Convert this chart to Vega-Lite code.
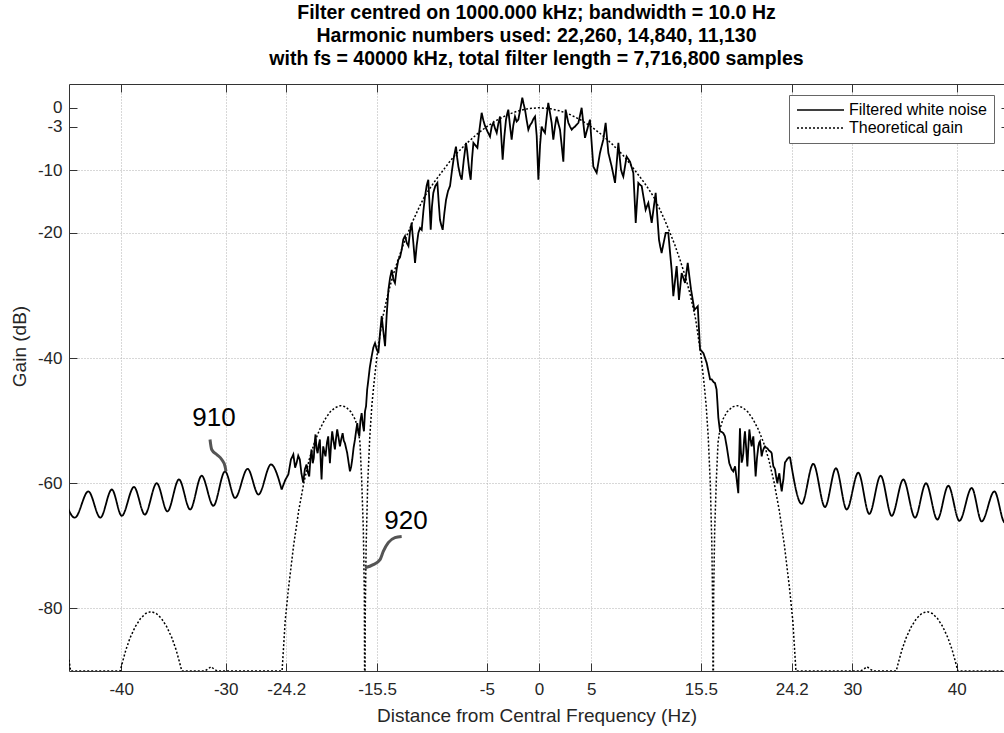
{
"$schema": "https://vega.github.io/schema/vega-lite/v6.json",
"width": 935, "height": 587,
"autosize": "none",
"padding": {"left": 69, "top": 84, "right": 0, "bottom": 62},
"config": {"font": "Liberation Sans", "view": {"stroke": null}},
"title": {"text": ["Filter centred on 1000.000 kHz; bandwidth = 10.0 Hz", "Harmonic numbers used: 22,260, 14,840, 11,130", "with fs = 40000 kHz, total filter length = 7,716,800 samples"], "fontSize": 19.5, "fontWeight": "bold", "lineHeight": 23, "offset": 14, "anchor": "middle", "color": "#000"},
"datasets": {
"theory": [
{"f":-45,"g":-88.2},{"f":-44.85,"g":-90},{"f":-40.1,"g":-90},{"f":-39.85,"g":-88.4},{"f":-39.55,"g":-86.6},{"f":-39.15,"g":-84.7},{"f":-38.65,"g":-82.9},{"f":-38.15,"g":-81.6},{"f":-37.65,"g":-80.8},{"f":-37.15,"g":-80.5},{"f":-36.65,"g":-80.8},{"f":-36.15,"g":-81.6},{"f":-35.65,"g":-82.9},{"f":-35.15,"g":-84.7},{"f":-34.75,"g":-86.6},{"f":-34.45,"g":-88.4},{"f":-34.2,"g":-90},{"f":-32.0,"g":-90},{"f":-31.7,"g":-89.7},{"f":-31.4,"g":-89.3},{"f":-31.1,"g":-89.7},{"f":-30.8,"g":-90},{"f":-24.6,"g":-90},{"f":-24.3,"g":-82},{"f":-24.0,"g":-77},{"f":-23.5,"g":-70},{"f":-23.0,"g":-64.3},{"f":-22.5,"g":-59.8},{"f":-22.0,"g":-56.2},{"f":-21.5,"g":-53.5},{"f":-21.0,"g":-51.4},{"f":-20.5,"g":-49.8},{"f":-20.0,"g":-48.6},{"f":-19.5,"g":-47.9},{"f":-19.0,"g":-47.6},{"f":-18.5,"g":-47.8},{"f":-18.0,"g":-48.6},{"f":-17.6,"g":-49.8},{"f":-17.33,"g":-51.3},{"f":-17.14,"g":-53.5},{"f":-16.98,"g":-59.4},{"f":-16.82,"g":-67.4},{"f":-16.72,"g":-78},{"f":-16.68,"g":-100},{"f":-16.63,"g":-80},{"f":-16.55,"g":-70},{"f":-16.4,"g":-60},{"f":-16.2,"g":-52.5},{"f":-16.0,"g":-47.5},{"f":-15.8,"g":-44},{"f":-15.5,"g":-39.5},{"f":-15.0,"g":-33.8},{"f":-14.5,"g":-30},{"f":-14.0,"g":-26.9},{"f":-13.5,"g":-24.3},{"f":-13.0,"g":-21.9},{"f":-12.5,"g":-19.8},{"f":-12.0,"g":-17.8},{"f":-11.5,"g":-16.0},{"f":-11.0,"g":-14.3},{"f":-10.5,"g":-13.0},{"f":-10.0,"g":-11.8},{"f":-9.5,"g":-10.7},{"f":-9.0,"g":-9.6},{"f":-8.5,"g":-8.5},{"f":-8.0,"g":-7.5},{"f":-7.0,"g":-5.8},{"f":-6.0,"g":-4.3},{"f":-5.0,"g":-3.0},{"f":-4.0,"g":-1.95},{"f":-3.0,"g":-1.1},{"f":-2.0,"g":-0.5},{"f":-1.0,"g":-0.12},{"f":0,"g":0},
{"f":1.0,"g":-0.12},{"f":2.0,"g":-0.5},{"f":3.0,"g":-1.1},{"f":4.0,"g":-1.95},{"f":5.0,"g":-3.0},{"f":6.0,"g":-4.3},{"f":7.0,"g":-5.8},{"f":8.0,"g":-7.5},{"f":8.5,"g":-8.5},{"f":9.0,"g":-9.6},{"f":9.5,"g":-10.7},{"f":10.0,"g":-11.8},{"f":10.5,"g":-13.0},{"f":11.0,"g":-14.3},{"f":11.5,"g":-16.0},{"f":12.0,"g":-17.8},{"f":12.5,"g":-19.8},{"f":13.0,"g":-21.9},{"f":13.5,"g":-24.3},{"f":14.0,"g":-26.9},{"f":14.5,"g":-30},{"f":15.0,"g":-33.8},{"f":15.5,"g":-39.5},{"f":15.8,"g":-44},{"f":16.0,"g":-47.5},{"f":16.2,"g":-52.5},{"f":16.4,"g":-60},{"f":16.55,"g":-70},{"f":16.63,"g":-80},{"f":16.68,"g":-100},{"f":16.72,"g":-78},{"f":16.82,"g":-67.4},{"f":16.98,"g":-59.4},{"f":17.14,"g":-53.5},{"f":17.33,"g":-51.3},{"f":17.6,"g":-49.8},{"f":18.0,"g":-48.6},{"f":18.5,"g":-47.8},{"f":19.0,"g":-47.6},{"f":19.5,"g":-47.9},{"f":20.0,"g":-48.6},{"f":20.5,"g":-49.8},{"f":21.0,"g":-51.4},{"f":21.5,"g":-53.5},{"f":22.0,"g":-56.2},{"f":22.5,"g":-59.8},{"f":23.0,"g":-64.3},{"f":23.5,"g":-70},{"f":24.0,"g":-77},{"f":24.3,"g":-82},{"f":24.6,"g":-90},{"f":30.8,"g":-90},{"f":31.1,"g":-89.7},{"f":31.4,"g":-89.3},{"f":31.7,"g":-89.7},{"f":32.0,"g":-90},{"f":34.2,"g":-90},{"f":34.45,"g":-88.4},{"f":34.75,"g":-86.6},{"f":35.15,"g":-84.7},{"f":35.65,"g":-82.9},{"f":36.15,"g":-81.6},{"f":36.65,"g":-80.8},{"f":37.15,"g":-80.5},{"f":37.65,"g":-80.8},{"f":38.15,"g":-81.6},{"f":38.65,"g":-82.9},{"f":39.15,"g":-84.7},{"f":39.55,"g":-86.6},{"f":39.85,"g":-88.4},{"f":40.1,"g":-90},{"f":44.85,"g":-90},{"f":45,"g":-88.2}
],
"osc": [
{"f":-45.6,"g":-61.6,"k":"L"},{"f":-44.44,"g":-65.5,"k":"L"},{"f":-43.15,"g":-61.3,"k":"L"},{"f":-42.0,"g":-65.5,"k":"L"},{"f":-40.9,"g":-61.0,"k":"L"},{"f":-39.95,"g":-65.2,"k":"L"},{"f":-38.78,"g":-60.6,"k":"L"},{"f":-37.74,"g":-65.0,"k":"L"},{"f":-36.6,"g":-60.0,"k":"L"},{"f":-35.58,"g":-64.5,"k":"L"},{"f":-34.47,"g":-59.4,"k":"L"},{"f":-33.4,"g":-64.2,"k":"L"},{"f":-32.3,"g":-58.8,"k":"L"},{"f":-31.18,"g":-63.6,"k":"L"},{"f":-30.06,"g":-58.1,"k":"L"},{"f":-29.1,"g":-62.35,"k":"L"},{"f":-27.9,"g":-57.7,"k":"L"},{"f":-26.86,"g":-61.8,"k":"L"},{"f":-25.66,"g":-57.0,"k":"L"},{"f":-24.64,"g":-61.0,"k":"L"},
{"f":24.03,"g":-55.8,"k":"R"},{"f":25.15,"g":-63.3,"k":"R"},{"f":26.26,"g":-56.9,"k":"R"},{"f":27.38,"g":-63.8,"k":"R"},{"f":28.43,"g":-57.6,"k":"R"},{"f":29.46,"g":-64.2,"k":"R"},{"f":30.57,"g":-58.3,"k":"R"},{"f":31.62,"g":-64.9,"k":"R"},{"f":32.71,"g":-58.8,"k":"R"},{"f":33.77,"g":-65.2,"k":"R"},{"f":34.88,"g":-59.4,"k":"R"},{"f":36.0,"g":-65.5,"k":"R"},{"f":37.05,"g":-60.0,"k":"R"},{"f":38.14,"g":-65.8,"k":"R"},{"f":39.19,"g":-60.4,"k":"R"},{"f":40.25,"g":-66.0,"k":"R"},{"f":41.43,"g":-60.75,"k":"R"},{"f":42.38,"g":-66.1,"k":"R"},{"f":43.6,"g":-61.3,"k":"R"},{"f":44.6,"g":-66.3,"k":"R"},{"f":45.7,"g":-61.5,"k":"R"}
],
"noise": [
{"f":-24.64,"g":-61.0},{"f":-24.3,"g":-59.5},{"f":-24.0,"g":-58.6},{"f":-23.75,"g":-56.2},{"f":-23.52,"g":-55.4},{"f":-23.35,"g":-57.5},{"f":-23.2,"g":-56.7},{"f":-23.05,"g":-55.6},{"f":-22.9,"g":-56.2},{"f":-22.75,"g":-58.4},{"f":-22.58,"g":-59.9},{"f":-22.42,"g":-57.8},{"f":-22.26,"g":-57.0},{"f":-22.12,"g":-58.3},{"f":-22.0,"g":-58.9},{"f":-21.88,"g":-56.0},{"f":-21.78,"g":-54.6},{"f":-21.66,"g":-56.8},{"f":-21.56,"g":-55.9},{"f":-21.48,"g":-53.6},{"f":-21.4,"g":-52.2},{"f":-21.3,"g":-54.4},{"f":-21.2,"g":-55.2},{"f":-21.08,"g":-53.8},{"f":-20.98,"g":-53.0},{"f":-20.9,"g":-56.5},{"f":-20.82,"g":-59.4},{"f":-20.74,"g":-56.3},{"f":-20.66,"g":-54.1},{"f":-20.55,"g":-55.0},{"f":-20.44,"g":-55.7},{"f":-20.3,"g":-53.5},{"f":-20.18,"g":-52.5},{"f":-20.1,"g":-54.8},{"f":-20.02,"g":-56.8},{"f":-19.9,"g":-53.6},{"f":-19.8,"g":-51.7},{"f":-19.67,"g":-53.3},{"f":-19.54,"g":-54.6},{"f":-19.43,"g":-52.8},{"f":-19.32,"g":-51.4},{"f":-19.2,"g":-52.6},{"f":-19.06,"g":-54.1},{"f":-18.93,"g":-52.9},{"f":-18.8,"g":-52.0},{"f":-18.69,"g":-53.2},{"f":-18.58,"g":-53.6},{"f":-18.47,"g":-54.4},{"f":-18.36,"g":-55.2},{"f":-18.23,"g":-56.7},{"f":-18.1,"g":-58.1},{"f":-17.99,"g":-57.4},{"f":-17.88,"g":-56.2},{"f":-17.75,"g":-54.3},{"f":-17.62,"g":-53.0},{"f":-17.5,"g":-51.5},{"f":-17.4,"g":-50.4},{"f":-17.3,"g":-51.9},{"f":-17.2,"g":-52.5},{"f":-17.1,"g":-50.0},{"f":-16.98,"g":-48.8},{"f":-16.87,"g":-50.6},{"f":-16.76,"g":-51.7},{"f":-16.66,"g":-48.5},{"f":-16.56,"g":-47.7},{"f":-16.45,"g":-45.0},{"f":-16.34,"g":-43.5},{"f":-16.2,"g":-41.5},{"f":-16.02,"g":-39.7},{"f":-15.86,"g":-38.3},{"f":-15.7,"g":-37.6},{"f":-15.54,"g":-38.6},{"f":-15.38,"g":-39.2},{"f":-15.22,"g":-36.0},{"f":-15.06,"g":-33.3},{"f":-14.9,"g":-35.8},{"f":-14.74,"g":-38.1},{"f":-14.58,"g":-33.0},{"f":-14.42,"g":-29.1},{"f":-14.26,"g":-27.2},{"f":-14.1,"g":-25.9},{"f":-13.95,"g":-27.4},{"f":-13.79,"g":-28.0},{"f":-13.63,"g":-25.8},{"f":-13.47,"g":-24.3},{"f":-13.31,"g":-23.9},{"f":-13.15,"g":-22.7},{"f":-12.99,"g":-21.0},{"f":-12.83,"g":-20.5},{"f":-12.66,"g":-21.6},{"f":-12.5,"g":-22.1},{"f":-12.35,"g":-19.8},{"f":-12.2,"g":-18.4},{"f":-12.03,"g":-21.6},{"f":-11.87,"g":-24.8},{"f":-11.71,"g":-22.0},{"f":-11.55,"g":-20.0},{"f":-11.39,"g":-19.2},{"f":-11.23,"g":-19.5},{"f":-11.07,"g":-16.5},{"f":-10.91,"g":-14.1},{"f":-10.75,"g":-12.4},{"f":-10.6,"g":-11.5},{"f":-10.48,"g":-15.5},{"f":-10.37,"g":-19.5},{"f":-10.25,"g":-15.8},{"f":-10.12,"g":-13.6},{"f":-9.93,"g":-12.5},{"f":-9.73,"g":-12.0},{"f":-9.6,"g":-15.2},{"f":-9.48,"g":-17.9},{"f":-9.35,"g":-18.8},{"f":-9.22,"g":-19.5},{"f":-9.06,"g":-16.8},{"f":-8.9,"g":-14.7},{"f":-8.71,"g":-13.3},{"f":-8.52,"g":-12.5},{"f":-8.33,"g":-10.0},{"f":-8.14,"g":-7.8},{"f":-7.95,"g":-6.2},{"f":-7.84,"g":-7.9},{"f":-7.72,"g":-9.4},{"f":-7.56,"g":-10.7},{"f":-7.4,"g":-11.5},{"f":-7.2,"g":-8.3},{"f":-6.99,"g":-5.6},{"f":-6.88,"g":-6.9},{"f":-6.76,"g":-8.8},{"f":-6.65,"g":-10.4},{"f":-6.54,"g":-11.5},{"f":-6.41,"g":-8.1},{"f":-6.28,"g":-5.6},{"f":-6.09,"g":-6.0},{"f":-5.9,"g":-6.4},{"f":-5.7,"g":-3.5},{"f":-5.49,"g":-0.8},{"f":-5.33,"g":-2.0},{"f":-5.17,"g":-2.9},{"f":-4.93,"g":-3.8},{"f":-4.69,"g":-4.6},{"f":-4.53,"g":-3.0},{"f":-4.37,"g":-2.4},{"f":-4.21,"g":-3.3},{"f":-4.05,"g":-4.0},{"f":-3.89,"g":-2.5},{"f":-3.73,"g":-1.4},{"f":-3.6,"g":-5.0},{"f":-3.48,"g":-8.3},{"f":-3.32,"g":-4.6},{"f":-3.16,"g":-1.9},{"f":-3.05,"g":-1.0},{"f":-2.94,"g":-0.3},{"f":-2.78,"g":-2.8},{"f":-2.62,"g":-5.1},{"f":-2.46,"g":-2.8},{"f":-2.3,"g":-1.4},{"f":-2.14,"g":-2.2},{"f":-1.98,"g":-1.9},{"f":-1.8,"g":-0.3},{"f":-1.6,"g":1.6},{"f":-1.47,"g":0.6},{"f":-1.34,"g":-0.3},{"f":-1.18,"g":-2.0},{"f":-1.02,"g":-3.5},{"f":-0.86,"g":-2.8},{"f":-0.7,"g":-2.4},{"f":-0.54,"g":-1.8},{"f":-0.38,"g":-1.4},{"f":-0.22,"g":-4.5},{"f":-0.06,"g":-11.5},{"f":0.1,"g":-6.0},{"f":0.25,"g":-3.0},{"f":0.41,"g":-3.6},{"f":0.57,"g":-4.0},{"f":0.73,"g":-1.5},{"f":0.89,"g":0.8},{"f":1.05,"g":-0.8},{"f":1.21,"g":-2.4},{"f":1.29,"g":-3.8},{"f":1.37,"g":-5.1},{"f":1.53,"g":-3.0},{"f":1.69,"g":-1.4},{"f":1.85,"g":-2.5},{"f":2.01,"g":-3.5},{"f":2.17,"g":-6.0},{"f":2.33,"g":-8.6},{"f":2.44,"g":-4.0},{"f":2.55,"g":-0.3},{"f":2.68,"g":-1.4},{"f":2.81,"g":-2.4},{"f":2.97,"g":-3.0},{"f":3.13,"g":-3.5},{"f":3.29,"g":-3.2},{"f":3.45,"g":-3.0},{"f":3.61,"g":-2.7},{"f":3.77,"g":-2.4},{"f":3.93,"g":-1.2},{"f":4.08,"g":0.0},{"f":4.24,"g":-2.4},{"f":4.4,"g":-4.8},{"f":4.64,"g":-3.3},{"f":4.88,"g":-1.9},{"f":5.04,"g":-5.6},{"f":5.2,"g":-9.4},{"f":5.36,"g":-9.9},{"f":5.52,"g":-10.4},{"f":5.68,"g":-8.8},{"f":5.84,"g":-7.2},{"f":6.0,"g":-6.1},{"f":6.16,"g":-5.1},{"f":6.27,"g":-3.7},{"f":6.38,"g":-2.4},{"f":6.51,"g":-4.8},{"f":6.64,"g":-7.2},{"f":6.8,"g":-8.3},{"f":6.96,"g":-9.4},{"f":7.12,"g":-10.7},{"f":7.28,"g":-12.0},{"f":7.44,"g":-8.8},{"f":7.6,"g":-5.6},{"f":7.72,"g":-7.8},{"f":7.85,"g":-9.9},{"f":7.96,"g":-10.5},{"f":8.07,"g":-11.0},{"f":8.23,"g":-9.4},{"f":8.39,"g":-7.8},{"f":8.55,"g":-8.2},{"f":8.71,"g":-8.6},{"f":8.87,"g":-9.5},{"f":9.03,"g":-10.4},{"f":9.15,"g":-14.4},{"f":9.26,"g":-18.4},{"f":9.38,"g":-15.2},{"f":9.51,"g":-12.0},{"f":9.67,"g":-12.3},{"f":9.83,"g":-12.5},{"f":10.02,"g":-14.4},{"f":10.21,"g":-16.3},{"f":10.34,"g":-15.7},{"f":10.47,"g":-15.2},{"f":10.63,"g":-16.8},{"f":10.79,"g":-18.4},{"f":10.98,"g":-16.0},{"f":11.17,"g":-13.6},{"f":11.33,"g":-17.4},{"f":11.49,"g":-21.1},{"f":11.61,"g":-22.2},{"f":11.74,"g":-23.2},{"f":11.93,"g":-21.6},{"f":12.13,"g":-20.0},{"f":12.25,"g":-20.0},{"f":12.38,"g":-20.0},{"f":12.54,"g":-23.0},{"f":12.7,"g":-25.9},{"f":12.78,"g":-28.0},{"f":12.86,"g":-30.1},{"f":13.02,"g":-27.7},{"f":13.18,"g":-25.3},{"f":13.29,"g":-28.0},{"f":13.4,"g":-30.7},{"f":13.53,"g":-28.5},{"f":13.66,"g":-26.4},{"f":13.82,"g":-27.2},{"f":13.98,"g":-28.0},{"f":14.11,"g":-26.4},{"f":14.24,"g":-24.8},{"f":14.4,"g":-27.0},{"f":14.56,"g":-29.1},{"f":14.72,"g":-30.7},{"f":14.88,"g":-32.3},{"f":15.04,"g":-32.0},{"f":15.2,"g":-31.7},{"f":15.31,"g":-35.2},{"f":15.42,"g":-38.6},{"f":15.58,"g":-38.9},{"f":15.74,"g":-39.2},{"f":15.9,"g":-40.0},{"f":16.06,"g":-40.8},{"f":16.22,"g":-42.1},{"f":16.38,"g":-43.4},{"f":16.53,"g":-43.4},{"f":16.7,"g":-43.8},{"f":16.85,"g":-44.0},{"f":17.0,"g":-45.0},{"f":17.08,"g":-47.0},{"f":17.17,"g":-49.5},{"f":17.33,"g":-51.7},{"f":17.5,"g":-51.8},{"f":17.65,"g":-52.0},{"f":17.8,"g":-52.5},{"f":17.97,"g":-54.1},{"f":18.1,"g":-55.5},{"f":18.22,"g":-56.8},{"f":18.45,"g":-57.8},{"f":18.6,"g":-58.1},{"f":18.77,"g":-57.3},{"f":18.93,"g":-59.4},{"f":19.08,"g":-61.6},{"f":19.16,"g":-56.0},{"f":19.24,"g":-51.2},{"f":19.32,"g":-54.5},{"f":19.4,"g":-56.7},{"f":19.48,"g":-56.2},{"f":19.56,"g":-55.2},{"f":19.64,"g":-53.0},{"f":19.72,"g":-51.7},{"f":19.84,"g":-54.5},{"f":19.95,"g":-57.3},{"f":20.05,"g":-54.0},{"f":20.14,"g":-51.4},{"f":20.25,"g":-53.0},{"f":20.36,"g":-54.1},{"f":20.44,"g":-53.2},{"f":20.52,"g":-52.5},{"f":20.63,"g":-55.5},{"f":20.74,"g":-58.9},{"f":20.87,"g":-56.0},{"f":21.0,"g":-54.1},{"f":21.08,"g":-53.5},{"f":21.16,"g":-53.3},{"f":21.24,"g":-54.4},{"f":21.32,"g":-55.7},{"f":21.4,"g":-55.0},{"f":21.48,"g":-54.6},{"f":21.56,"g":-54.3},{"f":21.64,"g":-54.1},{"f":21.75,"g":-54.3},{"f":21.86,"g":-54.4},{"f":21.99,"g":-54.7},{"f":22.12,"g":-54.9},{"f":22.2,"g":-55.0},{"f":22.28,"g":-55.2},{"f":22.36,"g":-56.4},{"f":22.44,"g":-57.3},{"f":22.52,"g":-57.5},{"f":22.6,"g":-57.8},{"f":22.71,"g":-59.0},{"f":22.82,"g":-60.0},{"f":22.92,"g":-59.0},{"f":23.01,"g":-58.4},{"f":23.12,"g":-60.0},{"f":23.24,"g":-61.3},{"f":23.32,"g":-60.2},{"f":23.4,"g":-59.4},{"f":23.48,"g":-57.8},{"f":23.55,"g":-56.7},{"f":23.67,"g":-56.4},{"f":23.78,"g":-56.1},{"f":23.9,"g":-55.9},{"f":24.03,"g":-55.8}
],
"lead": [
{"f":-31.5,"g":-53.0,"k":"910"},{"f":-31.34,"g":-54.6,"k":"910"},{"f":-30.86,"g":-55.4,"k":"910"},{"f":-30.38,"g":-56.2,"k":"910"},{"f":-30.06,"g":-57.3,"k":"910"},{"f":-29.97,"g":-58.1,"k":"910"},
{"f":-16.66,"g":-73.5,"k":"920"},{"f":-15.87,"g":-73.0,"k":"920"},{"f":-15.22,"g":-72.2,"k":"920"},{"f":-14.91,"g":-70.9,"k":"920"},{"f":-14.43,"g":-69.5,"k":"920"},{"f":-13.79,"g":-68.7,"k":"920"},{"f":-13.15,"g":-68.5,"k":"920"}
],
"labels": [{"f":-31.12,"g":-50.8,"t":"910"},{"f":-12.73,"g":-67.3,"t":"920"}]
},
"layer": [
{"data": {"name": "theory"},
 "mark": {"type": "line", "clip": true, "color": "#000", "strokeWidth": 1.5, "strokeCap": "butt"},
 "encoding": {
  "x": {"field": "f", "type": "quantitative", "scale": {"domain": [-45, 44.52], "nice": false, "zero": false},
   "axis": {"orient": "bottom", "values": [-40,-30,-24.2,-15.5,-5,0,5,15.5,24.2,30,40], "labelExpr": "'' + datum.value", "title": "Distance from Central Frequency (Hz)", "titleFontSize": 19, "titleFontWeight": "normal", "titleColor": "#262626", "titlePadding": 9, "labelFontSize": 17, "labelColor": "#262626", "tickSize": -8, "labelPadding": 18, "tickColor": "#333", "domainColor": "#333", "grid": true, "gridDash": [1,2], "gridColor": "#b0b0b0", "labelFlush": false, "labelOverlap": false}},
  "y": {"field": "g", "type": "quantitative", "scale": {"domain": [-90, 3.8], "nice": false, "zero": false},
   "axis": {"orient": "left", "values": [-80,-60,-40,-20,-10,-3,0], "labelExpr": "'' + datum.value", "title": "Gain (dB)", "titleY": 262, "titleFontSize": 19, "titleFontWeight": "normal", "titleColor": "#262626", "titlePadding": 8, "labelFontSize": 17, "labelColor": "#262626", "tickSize": -8, "labelPadding": 15, "tickColor": "#333", "domainColor": "#333", "grid": true, "gridDash": [1,2], "gridColor": "#b0b0b0", "gridOpacity": {"condition": {"test": "datum.value > -5", "value": 0}, "value": 1}, "labelFlush": false, "labelOverlap": false}},
  "strokeDash": {"datum": "Theoretical gain", "type": "nominal",
   "scale": {"domain": ["Filtered white noise", "Theoretical gain"], "range": [[1,0],[2,2]]},
   "legend": {"title": null, "orient": "none", "legendX": 720, "legendY": 11, "labelFontSize": 16, "labelColor": "#000", "symbolType": "stroke", "symbolSize": 2209, "symbolStrokeColor": "#000", "symbolStrokeWidth": 1.6, "labelOffset": 4, "padding": 7, "rowPadding": 2, "clipHeight": 16, "strokeColor": "#666", "fillColor": "#fff"}}
 }},
{"data": {"name": "osc"},
 "mark": {"type": "line", "clip": true, "color": "#000", "strokeWidth": 1.8, "interpolate": "monotone"},
 "encoding": {
  "x": {"field": "f", "type": "quantitative", "axis": {"orient": "top", "values": [-40,-30,-24.2,-15.5,-5,0,5,15.5,24.2,30,40], "labels": false, "title": null, "tickSize": -8, "tickColor": "#333", "domainColor": "#333", "grid": false}},
  "y": {"field": "g", "type": "quantitative", "axis": {"orient": "right", "values": [-80,-60,-40,-20,-10,-3,0], "labels": false, "title": null, "tickSize": -3, "tickColor": "#333", "domain": false, "grid": false}},
  "detail": {"field": "k"},
  "strokeDash": {"datum": "Filtered white noise", "type": "nominal"}
 }},
{"data": {"name": "noise"},
 "mark": {"type": "line", "clip": true, "color": "#000", "strokeWidth": 1.8},
 "encoding": {
  "x": {"field": "f", "type": "quantitative", "axis": null},
  "y": {"field": "g", "type": "quantitative", "axis": null},
  "strokeDash": {"datum": "Filtered white noise", "type": "nominal"}
 }},
{"data": {"name": "lead"},
 "mark": {"type": "line", "color": "#555", "strokeWidth": 3, "interpolate": "monotone"},
 "encoding": {
  "x": {"field": "f", "type": "quantitative", "axis": null},
  "y": {"field": "g", "type": "quantitative", "axis": null},
  "detail": {"field": "k"}
 }},
{"data": {"name": "labels"},
 "mark": {"type": "text", "fontSize": 26, "color": "#000", "align": "center", "baseline": "alphabetic"},
 "encoding": {
  "x": {"field": "f", "type": "quantitative", "axis": null},
  "y": {"field": "g", "type": "quantitative", "axis": null},
  "text": {"field": "t"}
 }}
],
"resolve": {"axis": {"x": "independent", "y": "independent"}}
}
